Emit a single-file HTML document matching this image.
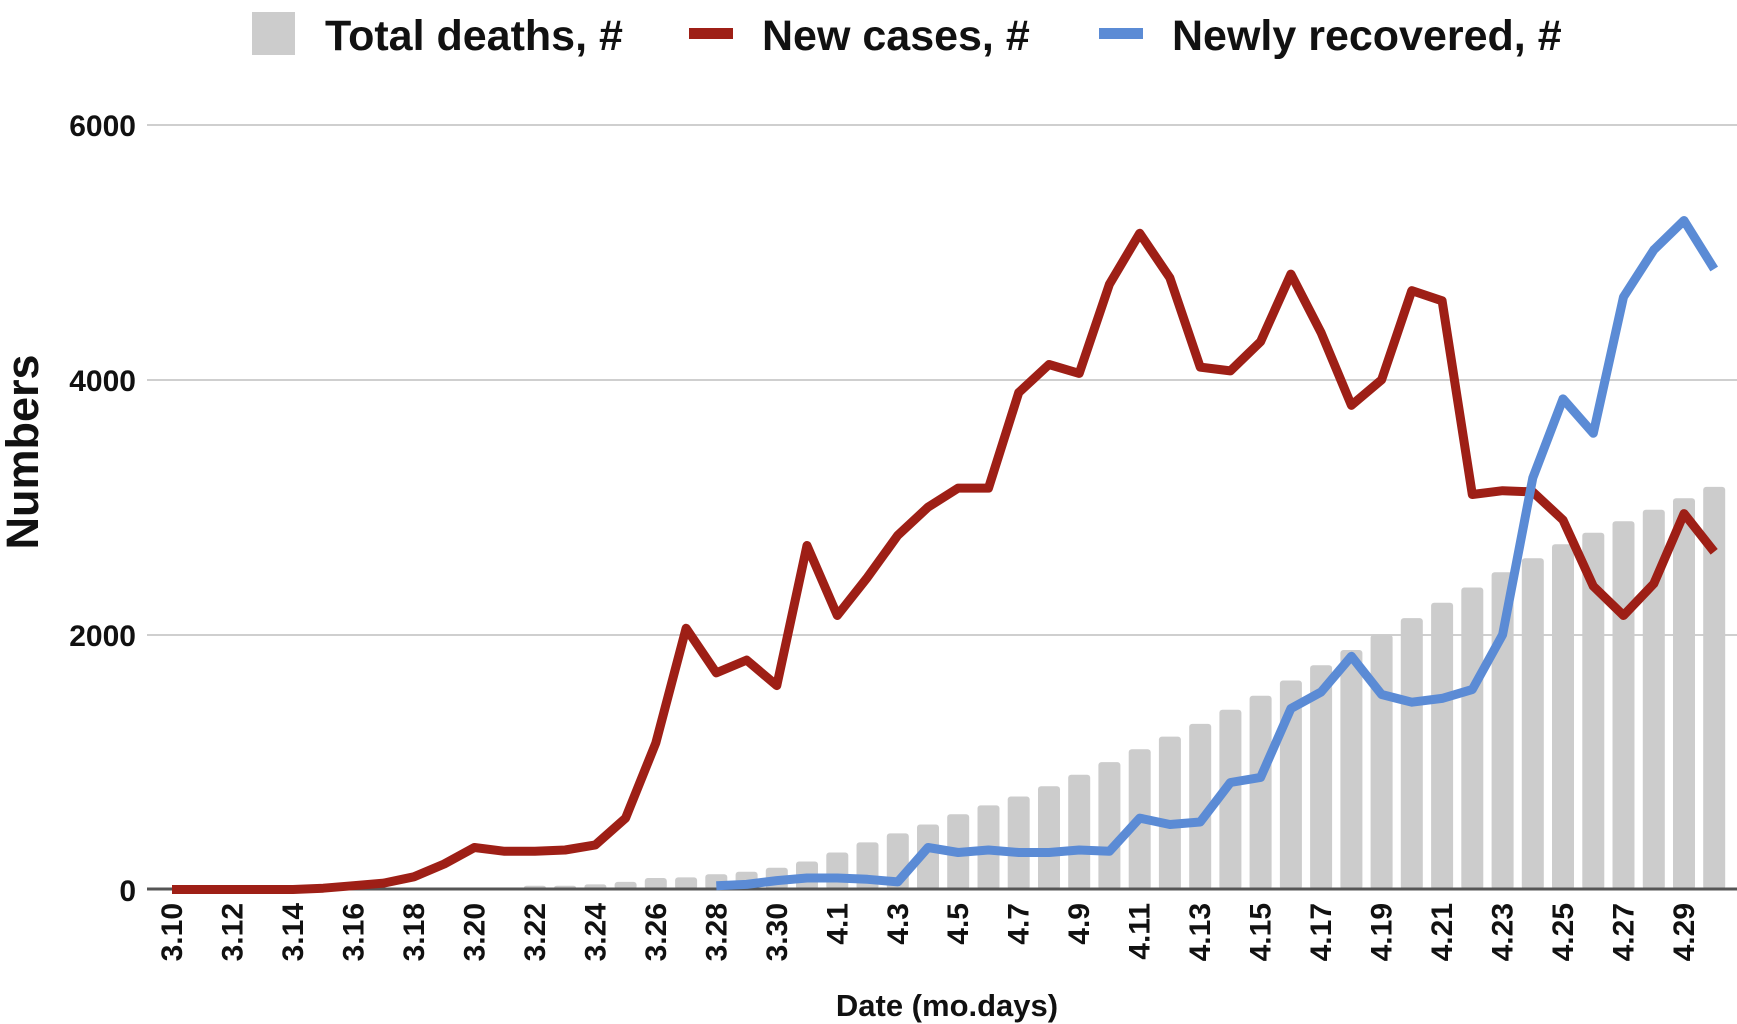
<!DOCTYPE html>
<html><head><meta charset="utf-8"><style>
html,body{margin:0;padding:0;background:#fff;}
svg{display:block;font-family:"Liberation Sans",Arial,sans-serif;font-weight:bold;}
</style></head><body>
<svg id="c" width="1737" height="1024" viewBox="0 0 1737 1024" xmlns="http://www.w3.org/2000/svg">
<g stroke="#cfcfcf" stroke-width="2">
<line x1="147" y1="125" x2="1737" y2="125"/>
<line x1="147" y1="380" x2="1737" y2="380"/>
<line x1="147" y1="635" x2="1737" y2="635"/>
</g>
<g id="bars" fill="#cccccc"></g>
<line x1="147" y1="889" x2="1737" y2="889" stroke="#555" stroke-width="3"/>
<path id="red" fill="none" stroke="#9e1f16" stroke-width="9" stroke-linejoin="round"/>
<path id="blue" fill="none" stroke="#5b8bd5" stroke-width="9" stroke-linejoin="round"/>
<g font-size="30" text-anchor="end" fill="#111">
<text x="136" y="136">6000</text>
<text x="136" y="391">4000</text>
<text x="136" y="646">2000</text>
<text x="136" y="901">0</text>
</g>
<text transform="translate(38,452) rotate(-90)" font-size="45" text-anchor="middle" fill="#111">Numbers</text>
<text x="947" y="1016" font-size="31" text-anchor="middle" fill="#111">Date (mo.days)</text>
<g id="xl" font-size="30" text-anchor="end" fill="#111">
<text>3.10</text><text>3.12</text><text>3.14</text><text>3.16</text><text>3.18</text><text>3.20</text><text>3.22</text><text>3.24</text><text>3.26</text><text>3.28</text><text>3.30</text><text>4.1</text><text>4.3</text><text>4.5</text><text>4.7</text><text>4.9</text><text>4.11</text><text>4.13</text><text>4.15</text><text>4.17</text><text>4.19</text><text>4.21</text><text>4.23</text><text>4.25</text><text>4.27</text><text>4.29</text>
</g>
<rect x="252" y="12" width="43" height="43" fill="#cccccc"/>
<text x="325" y="50" font-size="43" fill="#111">Total deaths, #</text>
<rect x="689" y="28" width="44" height="11" fill="#9e1f16"/>
<text x="762" y="50" font-size="43" fill="#111">New cases, #</text>
<rect x="1099" y="28" width="44" height="11" fill="#5b8bd5"/>
<text x="1172" y="50" font-size="43" fill="#111">Newly recovered, #</text>
</svg>
<script>
var X=function(i){return 172+i*30.24;}, Y=function(v){return 889.5-v*0.12742;};
var nc=[0,0,0,0,0,10,30,50,100,200,330,300,300,310,350,560,1150,2050,1700,1800,1600,2700,2150,2450,2780,3000,3150,3150,3900,4120,4050,4750,5150,4800,4100,4070,4300,4830,4370,3800,4000,4700,4620,3100,3130,3120,2900,2380,2150,2400,2950,2650];
var rc=[30,40,70,90,90,80,60,330,290,310,290,290,310,300,560,510,530,840,880,1420,1550,1830,1530,1470,1500,1570,2000,3230,3850,3580,4650,5020,5250,4870];
var dt=[10,10,10,15,30,30,40,60,90,95,120,140,170,220,290,370,440,510,590,660,730,810,900,1000,1100,1200,1300,1410,1520,1640,1760,1880,2000,2130,2250,2370,2490,2600,2710,2800,2890,2980,3070,3160];
var d="";nc.forEach(function(v,i){d+=(i?"L":"M")+X(i).toFixed(1)+","+Y(v).toFixed(1);});
document.getElementById("red").setAttribute("d",d);
d="";rc.forEach(function(v,i){d+=(i?"L":"M")+X(i+18).toFixed(1)+","+Y(v).toFixed(1);});
document.getElementById("blue").setAttribute("d",d);
var b="";dt.forEach(function(v,i){var x=X(i+8);b+='<rect x="'+(x-11).toFixed(1)+'" y="'+Y(v).toFixed(1)+'" width="22" height="'+(v*0.12742).toFixed(1)+'" rx="3"/>';});
document.getElementById("bars").innerHTML=b;
var ts=document.querySelectorAll("#xl text");
ts.forEach(function(t,k){var x=X(k*2)+10;t.setAttribute("transform","translate("+x.toFixed(1)+",903) rotate(-90)");});
</script>
</body></html>
